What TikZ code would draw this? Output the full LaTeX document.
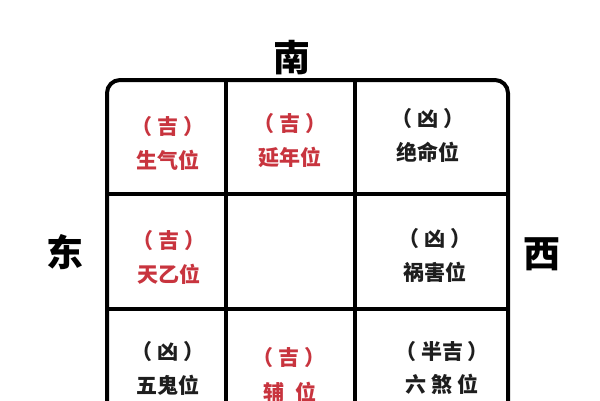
\documentclass[tikz,border=0pt]{standalone}
\usepackage{fontspec}
\newfontfamily\cjk{Noto Sans CJK SC}
\definecolor{jired}{HTML}{C8343E}
\definecolor{inkc}{HTML}{1E1E1E}
\newcommand{\pbr}[1]{（\hspace{5pt}#1\hspace{5pt}）}
\begin{document}
\begin{tikzpicture}[x=1pt,y=-1pt,
  gridline/.style={line width=4pt,draw=black},
  dirlabel/.style={font=\cjk\bfseries\fontsize{37}{40}\selectfont,text=black,inner sep=0pt},
  goodtxt/.style={font=\cjk\bfseries\fontsize{21}{24}\selectfont,text=jired,inner sep=0pt},
  badtxt/.style={font=\cjk\bfseries\fontsize{21}{24}\selectfont,text=inkc,inner sep=0pt}]
\useasboundingbox (0,0) rectangle (600,400);
\fill[white] (0,0) rectangle (600,400);
\begin{scope}
\clip (0,0) rectangle (600,400);
\draw[gridline,rounded corners=13pt] (107,80) rectangle (508,426);
\draw[gridline] (107,194) -- (508,194);
\draw[gridline] (107,309) -- (508,309);
\draw[gridline] (226,80) -- (226,426);
\draw[gridline] (355,80) -- (355,426);
\end{scope}
% direction labels
\node[dirlabel] (nan) at (292,58) {南};
\node[dirlabel] (dong) at (65,252) {东};
\node[dirlabel] (xi) at (542,254) {西};
% row 1
\node[goodtxt] (r1a1) at (168,127) {\pbr{吉}};
\node[goodtxt] (r1a2) at (168,160) {生气位};
\node[goodtxt] (r1b1) at (290,124) {\pbr{吉}};
\node[goodtxt] (r1b2) at (290,157) {延年位};
\node[badtxt] (r1c1) at (428,119) {\pbr{凶}};
\node[badtxt] (r1c2) at (428,152) {绝命位};
% row 2
\node[goodtxt] (r2a1) at (169,241) {\pbr{吉}};
\node[goodtxt] (r2a2) at (169,274) {天乙位};
\node[badtxt] (r2c1) at (435,239) {\pbr{凶}};
\node[badtxt] (r2c2) at (435,272) {祸害位};
% row 3
\node[badtxt] (r3a1) at (168,352) {\pbr{凶}};
\node[badtxt] (r3a2) at (168,385) {五鬼位};
\node[goodtxt] (r3b1) at (289,358) {\pbr{吉}};
\node[goodtxt] (r3b2) at (290,392) {辅\hspace{11pt}位};
\node[badtxt] (r3c1) at (442,352) {\pbr{半吉}};
\node[badtxt] (r3c2) at (442,384) {六 煞 位};
\end{tikzpicture}
\end{document}
